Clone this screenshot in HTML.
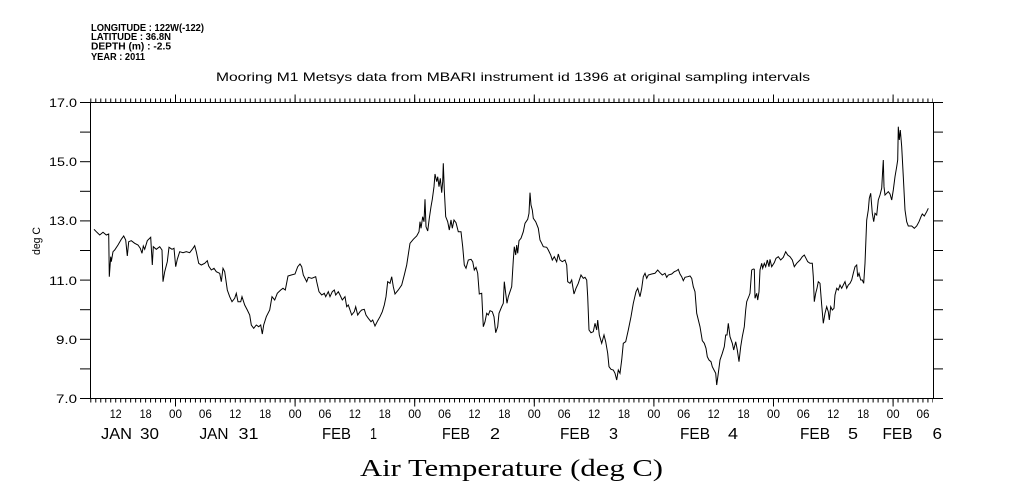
<!DOCTYPE html>
<html>
<head>
<meta charset="utf-8">
<style>
  html,body{margin:0;padding:0;background:#fff;}
  svg{display:block;}
  text{font-family:"Liberation Sans",sans-serif;fill:#000;}
  .serif{font-family:"Liberation Serif",serif;}
</style>
</head>
<body>
<svg width="1009" height="504" viewBox="0 0 1009 504" xmlns="http://www.w3.org/2000/svg">
  <rect x="0" y="0" width="1009" height="504" fill="#fff"/>

  <!-- header info -->
  <g font-size="10" font-weight="bold">
  <text x="91" y="31" textLength="113" lengthAdjust="spacingAndGlyphs">LONGITUDE : 122W(-122)</text>
  <text x="91" y="40" textLength="80" lengthAdjust="spacingAndGlyphs">LATITUDE : 36.8N</text>
  <text x="91" y="49.5" textLength="80" lengthAdjust="spacingAndGlyphs">DEPTH (m) : -2.5</text>
  <text x="91" y="60" textLength="54" lengthAdjust="spacingAndGlyphs">YEAR : 2011</text>
  </g>

  <!-- title -->
  <text x="216" y="81" font-size="12" textLength="594" lengthAdjust="spacingAndGlyphs">Mooring M1 Metsys data from MBARI instrument id 1396 at original sampling intervals</text>

  <!-- plot frame -->
  <rect x="90.5" y="102.5" width="843" height="296" fill="none" stroke="#000" stroke-width="1"/>

  <!-- y ticks (left & right) -->
  <g stroke="#000" stroke-width="1">
    <line x1="80" y1="398.5" x2="90.5" y2="398.5"/>
    <line x1="80" y1="368.9" x2="90.5" y2="368.9"/>
    <line x1="80" y1="339.3" x2="90.5" y2="339.3"/>
    <line x1="80" y1="309.7" x2="90.5" y2="309.7"/>
    <line x1="80" y1="280.1" x2="90.5" y2="280.1"/>
    <line x1="80" y1="250.5" x2="90.5" y2="250.5"/>
    <line x1="80" y1="220.9" x2="90.5" y2="220.9"/>
    <line x1="80" y1="191.3" x2="90.5" y2="191.3"/>
    <line x1="80" y1="161.7" x2="90.5" y2="161.7"/>
    <line x1="80" y1="132.1" x2="90.5" y2="132.1"/>
    <line x1="80" y1="102.5" x2="90.5" y2="102.5"/>

    <line x1="933.5" y1="398.5" x2="943" y2="398.5"/>
    <line x1="933.5" y1="368.9" x2="943" y2="368.9"/>
    <line x1="933.5" y1="339.3" x2="943" y2="339.3"/>
    <line x1="933.5" y1="309.7" x2="943" y2="309.7"/>
    <line x1="933.5" y1="280.1" x2="943" y2="280.1"/>
    <line x1="933.5" y1="250.5" x2="943" y2="250.5"/>
    <line x1="933.5" y1="220.9" x2="943" y2="220.9"/>
    <line x1="933.5" y1="191.3" x2="943" y2="191.3"/>
    <line x1="933.5" y1="161.7" x2="943" y2="161.7"/>
    <line x1="933.5" y1="132.1" x2="943" y2="132.1"/>
    <line x1="933.5" y1="102.5" x2="943" y2="102.5"/>
  </g>

  <!-- y tick labels -->
  <g font-size="12" text-anchor="end">
    <text x="77" y="107" textLength="28" lengthAdjust="spacingAndGlyphs">17.0</text>
    <text x="77" y="166" textLength="28" lengthAdjust="spacingAndGlyphs">15.0</text>
    <text x="77" y="225" textLength="28" lengthAdjust="spacingAndGlyphs">13.0</text>
    <text x="77" y="285" textLength="28" lengthAdjust="spacingAndGlyphs">11.0</text>
    <text x="77" y="344" textLength="21" lengthAdjust="spacingAndGlyphs">9.0</text>
    <text x="77" y="403" textLength="21" lengthAdjust="spacingAndGlyphs">7.0</text>
  </g>

  <!-- y axis label -->
  <text x="0" y="0" font-size="11" text-anchor="middle" textLength="28" lengthAdjust="spacingAndGlyphs" transform="translate(40,241) rotate(-90)">deg C</text>

  <!-- x minor ticks via dashes (hourly) -->
  <line x1="90.29" y1="400.5" x2="933" y2="400.5" stroke="#000" stroke-width="4" stroke-dasharray="1 3.983"/>
  <line x1="90.29" y1="100.5" x2="933" y2="100.5" stroke="#000" stroke-width="4" stroke-dasharray="1 3.983"/>

  <!-- x major ticks (daily) -->
  <g stroke="#000" stroke-width="1">
    <line x1="175.5" y1="398.5" x2="175.5" y2="406.5"/>
    <line x1="295.1" y1="398.5" x2="295.1" y2="406.5"/>
    <line x1="414.7" y1="398.5" x2="414.7" y2="406.5"/>
    <line x1="534.3" y1="398.5" x2="534.3" y2="406.5"/>
    <line x1="653.9" y1="398.5" x2="653.9" y2="406.5"/>
    <line x1="773.5" y1="398.5" x2="773.5" y2="406.5"/>
    <line x1="893.1" y1="398.5" x2="893.1" y2="406.5"/>

    <line x1="175.5" y1="102.5" x2="175.5" y2="94.5"/>
    <line x1="295.1" y1="102.5" x2="295.1" y2="94.5"/>
    <line x1="414.7" y1="102.5" x2="414.7" y2="94.5"/>
    <line x1="534.3" y1="102.5" x2="534.3" y2="94.5"/>
    <line x1="653.9" y1="102.5" x2="653.9" y2="94.5"/>
    <line x1="773.5" y1="102.5" x2="773.5" y2="94.5"/>
    <line x1="893.1" y1="102.5" x2="893.1" y2="94.5"/>
  </g>

  <!-- hour labels -->
  <g font-size="12" text-anchor="middle">
    <text x="115.7" y="418" textLength="12" lengthAdjust="spacingAndGlyphs">12</text>
    <text x="145.6" y="418" textLength="12" lengthAdjust="spacingAndGlyphs">18</text>
    <text x="175.5" y="418" textLength="13" lengthAdjust="spacingAndGlyphs">00</text>
    <text x="205.4" y="418" textLength="13" lengthAdjust="spacingAndGlyphs">06</text>
    <text x="235.3" y="418" textLength="12" lengthAdjust="spacingAndGlyphs">12</text>
    <text x="265.2" y="418" textLength="12" lengthAdjust="spacingAndGlyphs">18</text>
    <text x="295.1" y="418" textLength="13" lengthAdjust="spacingAndGlyphs">00</text>
    <text x="325.0" y="418" textLength="13" lengthAdjust="spacingAndGlyphs">06</text>
    <text x="354.9" y="418" textLength="12" lengthAdjust="spacingAndGlyphs">12</text>
    <text x="384.8" y="418" textLength="12" lengthAdjust="spacingAndGlyphs">18</text>
    <text x="414.7" y="418" textLength="13" lengthAdjust="spacingAndGlyphs">00</text>
    <text x="444.6" y="418" textLength="13" lengthAdjust="spacingAndGlyphs">06</text>
    <text x="474.5" y="418" textLength="12" lengthAdjust="spacingAndGlyphs">12</text>
    <text x="504.4" y="418" textLength="12" lengthAdjust="spacingAndGlyphs">18</text>
    <text x="534.3" y="418" textLength="13" lengthAdjust="spacingAndGlyphs">00</text>
    <text x="564.2" y="418" textLength="13" lengthAdjust="spacingAndGlyphs">06</text>
    <text x="594.1" y="418" textLength="12" lengthAdjust="spacingAndGlyphs">12</text>
    <text x="624.0" y="418" textLength="12" lengthAdjust="spacingAndGlyphs">18</text>
    <text x="653.9" y="418" textLength="13" lengthAdjust="spacingAndGlyphs">00</text>
    <text x="683.8" y="418" textLength="13" lengthAdjust="spacingAndGlyphs">06</text>
    <text x="713.7" y="418" textLength="12" lengthAdjust="spacingAndGlyphs">12</text>
    <text x="743.6" y="418" textLength="12" lengthAdjust="spacingAndGlyphs">18</text>
    <text x="773.5" y="418" textLength="13" lengthAdjust="spacingAndGlyphs">00</text>
    <text x="803.4" y="418" textLength="13" lengthAdjust="spacingAndGlyphs">06</text>
    <text x="833.3" y="418" textLength="12" lengthAdjust="spacingAndGlyphs">12</text>
    <text x="863.2" y="418" textLength="12" lengthAdjust="spacingAndGlyphs">18</text>
    <text x="893.1" y="418" textLength="13" lengthAdjust="spacingAndGlyphs">00</text>
    <text x="923.0" y="418" textLength="13" lengthAdjust="spacingAndGlyphs">06</text>
  </g>

  <!-- date labels -->
  <g font-size="16">
    <text x="101" y="439" textLength="31" lengthAdjust="spacingAndGlyphs">JAN</text>
    <text x="140" y="439" textLength="19" lengthAdjust="spacingAndGlyphs">30</text>
    <text x="199.5" y="439" textLength="29" lengthAdjust="spacingAndGlyphs">JAN</text>
    <text x="238.5" y="439" textLength="20" lengthAdjust="spacingAndGlyphs">31</text>
    <text x="322" y="439" textLength="29" lengthAdjust="spacingAndGlyphs">FEB</text>
    <text x="370" y="439" textLength="7" lengthAdjust="spacingAndGlyphs">1</text>
    <text x="442" y="439" textLength="28" lengthAdjust="spacingAndGlyphs">FEB</text>
    <text x="490" y="439" textLength="10" lengthAdjust="spacingAndGlyphs">2</text>
    <text x="560" y="439" textLength="30" lengthAdjust="spacingAndGlyphs">FEB</text>
    <text x="609" y="439" textLength="9" lengthAdjust="spacingAndGlyphs">3</text>
    <text x="680" y="439" textLength="30" lengthAdjust="spacingAndGlyphs">FEB</text>
    <text x="728" y="439" textLength="10" lengthAdjust="spacingAndGlyphs">4</text>
    <text x="800" y="439" textLength="30" lengthAdjust="spacingAndGlyphs">FEB</text>
    <text x="848" y="439" textLength="10" lengthAdjust="spacingAndGlyphs">5</text>
    <text x="882.5" y="439" textLength="30" lengthAdjust="spacingAndGlyphs">FEB</text>
    <text x="932.5" y="439" textLength="9.5" lengthAdjust="spacingAndGlyphs">6</text>
  </g>

  <!-- bottom title -->
  <text class="serif" x="360" y="476" font-size="24" textLength="303" lengthAdjust="spacingAndGlyphs">Air Temperature (deg C)</text>

  <!-- data -->
  <polyline fill="none" stroke="#000" stroke-width="1" stroke-linejoin="miter" points="
94,229.3 96.3,231.7 99.7,235 103,232.3 106.3,235 108.7,234 109.3,276.7 110.7,256.7 111.3,261.7 113,251.7 114.7,250 118,245 121.3,239.3 123.7,236 125.7,240 127.3,256 128.7,241.7 131.3,240.7 134.7,243.3 138,245 140.3,248.3 142,253.3 143.3,246 144.7,249.3 147.3,240.7 150.7,237.3 152.3,265 153.3,246.7 156.3,249.3 159.7,246.7 162,250 163,281.7 164.7,271.7 167.3,261.7 169,247.3 172,249.3 174,248.3 175.7,266.7 177.3,259.3 179.7,251.7 183,252.7 186.3,251.7 189.7,252.7 193,248.3 194.7,245.7 196.3,251.7 198.7,263.3 201.3,265 204.7,263.3 207.3,260.7 208.7,266 211.3,270 214,268.3 216.3,271.7 219.7,273.3 221.3,281.7 223,268.3 224.7,271.7 227.3,290 229.7,296.7 232,301.7 234.7,298.3 236.3,293.3 238,301.7 240.7,301.7 242,296.7 244.7,305 247.3,310 249.7,315 251.3,325 253.7,328.3 256.3,325 258.7,326.7 260.7,325 262.3,334 263.7,325 266.3,316.7 269.7,310 272,296.7 274.7,300 277.3,293.3 280.7,290 283,288.3 285.3,290 288,276 291.3,275
295,274 297.7,266.7 300,264 301.7,266.7 303.3,275 306.7,281.7 308.3,277.3 311.7,278.3 315.7,276.7 316.7,281.7 319,291.7 321.7,295 324.3,293.3 325.7,296.7 328.3,291.7 330,296.7 332.3,291.7 334.3,290 335.7,295 338.3,291.7 340,295 342.3,300 345,296.7 346.7,306.7 348.3,305 351.7,315 354.3,311.7 355.7,306.7 357.7,315 360,311.7 361.7,310 364.3,309.3 366,315 368.3,318.3 371,321.7 372.7,320 375,326 377.7,320.7 380,316.7 382.3,311.7 384.3,305 386,296.7 387.7,281.7 390,283.3 391.7,276.7 393.3,286.7 395,294 398.3,290 401.7,285 404.3,275 406.7,265 410,243.3 413.3,239.3 416.7,236 419,231.7 420,221.7 421,228.3 422.7,216.7 424,221.7 425,199.3 426,226.7 427.7,231 429.3,218.3 431,206.7 432.3,199.3 434,186.7 435,174 436.7,181.7 437.7,176.7 439,186.7 440.3,178.3 441.7,192.7 442.7,181.7 443.3,163.3 444.3,190 445.7,216.7 447.7,221.7 449.3,230 451,220 452.3,228.3 454,220 456,222.7 458.3,231.7 461,231.7 462.7,246.7 464.3,265 466,268.3 468.3,260 471,259.3 472.7,261.7 474.3,270 476,267.3 477.7,273.3 479.3,294 481.7,293.3 483.3,326.7 485,321.7 486.7,313.3 488.3,315 490,310.7 492.3,311.7 494,316.7 495.7,332.7 497.7,326.7 499,313.3 501.7,306.7 503.3,303.3 504.3,281.7 505.7,293.3 507,303.3 508.3,296.7
510,291.7 511.7,286.7 513.3,260 514.3,246.7 515.7,255 516.7,245 517.7,253.3 519,240.7 521,238.3 523.3,231.7 525,223.3 527.7,219.3 529,213.3 530,192.7 531,205 532.3,210 533.3,218.3 535.7,221.7 538.3,228.3 540,240 541.7,243.3 543.3,246.7 546.7,247.3 548.3,250 550.7,255 552.3,260 554.3,256.7 556.7,261.7 558.3,254 560,260 562.3,261.7 565,260 566.7,265 567.7,281.7 570,283.3 571.7,280 574,294 576,288.3 578.3,283.3 581,275 583.3,278.3 585,277.3 586.7,280 587.7,296.7 589,330 591,332.7 593.3,331.7 595,323.3 596.7,330 597.7,320 599.3,335 601.7,343.3 604,335 605.7,341.7 607.7,353.3 609,366.7 611,369.3 613.3,370 615,373.3 616.7,380 618.3,370 620,373.3 621.7,360 623.3,343.3 625.7,341.7 628.3,330 631,316.7 633.3,303.3 636,291.7 637.7,288.3 640,296.7 641.7,288.3 643.3,276.7 645,273.3 646.7,278.3 648.3,275 651.7,274 655,273.3 657.7,270 660,272.7 662.3,275 665,273.3 666.7,277.3 668.3,275 671.7,274 674.3,271.7 676.7,270.7 678.3,269.3 680,274 681.7,276.7 683.3,280.7 685,277.3 687.7,276.7 690,276 691.7,278.3 693.3,286.7 695,291.7 696.7,313.3 700,326.7 702.3,340.7 704.3,343.3 706,348.3 707.3,356.7 709,360 711,361.7 712.3,366.7 714,370 715.7,373.3 716.7,385 718.3,373.3
720,360 722.3,353.3 724.3,346.7 725.7,335 727,335 728.3,323.3 730,336.7 732.3,343.3 733.7,350 735.7,341.7 737.3,350 739,361.7 740.7,346.7 742.3,336.7 744.3,326.7 745.7,310 746.7,301.7 749,296 750,293.3 751.7,270 753.3,269 754.3,269.3 755,298.3 756.7,293.3 757.7,300 759,291.7 760,270 761.7,263.3 762.7,268.3 764.3,263.3 765.7,266.7 767.3,260 769,266.7 770,259.3 771.7,266.7 774.3,262.7 776,258.3 778.3,256.7 780.7,260 783.3,257.3 785.7,251.7 787.7,255 790,256.7 792.3,260 794.3,266.7 796.7,263.3 800,260 802.3,256.7 804.3,255 806,258.3 807.7,261.7 810,263.3 812.3,263.3 813.3,276.7 814.3,301.7 815.7,293.3 817,288.3 818.3,281.7 820,283.3 821.7,305 823.3,323.3 825,313.3 826.7,306.7 828.3,311.7 829.3,320 830.7,306.7 832.3,310 834,308.3 835,295 836.7,288.3 838.3,290 840,285 841.7,288.3 843.3,285 845,281.7 846.7,288.3 848.3,285 850,283.3 851.7,280 853.3,273.3 855,266.7 856.7,265 857.7,276.7 859,273.3 860.7,280 862.3,280 863.7,283.3 865,263.3 866.7,220 868.3,210 869.3,198.3 870.7,193.3 872.3,213.3 873.7,221.7 875,213.3 876.7,215 878.3,200 880,195 881.7,188.3 882.7,170 883.3,160 884,186.7 885,195 886.7,193.3 888.3,191.7 890,194 891.7,200 893.3,190 895,176.7 896.7,166.7 897.7,160 898.3,126.7 899.3,140 900.3,130 901.7,146.7 903.3,176.7 905,210 906.7,221.7 908.3,226 911.7,226 914.3,228.3 916.7,226 919,221.7 921,216.7 922.3,214 924.3,216 926.7,211.7 928.3,208.3"/>
</svg>
</body>
</html>
